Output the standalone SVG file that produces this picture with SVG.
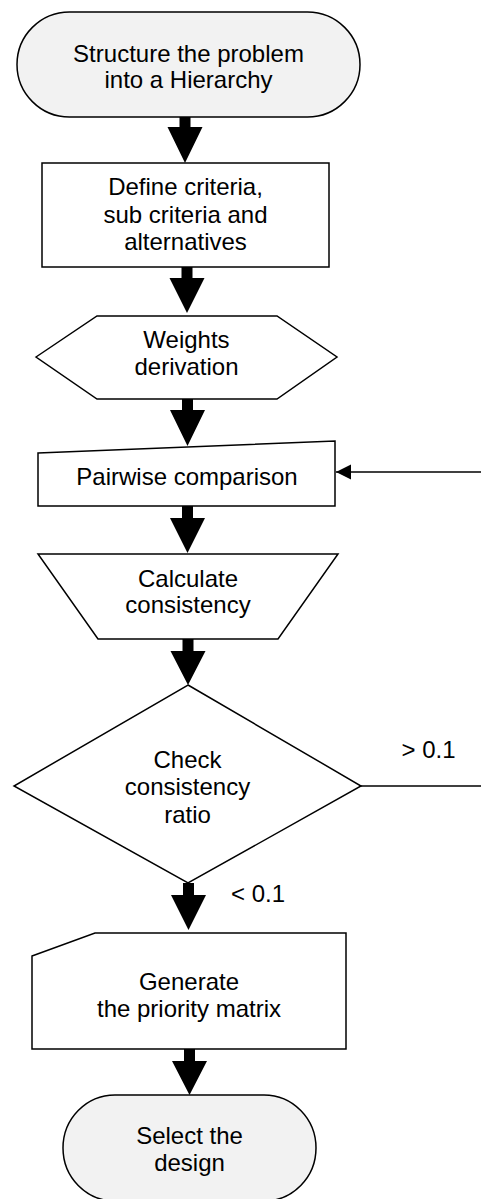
<svg xmlns="http://www.w3.org/2000/svg" width="481" height="1199" viewBox="0 0 481 1199">
<style>
.shape{fill:#ffffff;stroke:#000000;stroke-width:1.5}
.term{fill:#f2f2f2;stroke:#000000;stroke-width:1.5}
text{font-family:"Liberation Sans",Arial,sans-serif;font-size:24px;fill:#000000;text-anchor:middle}
.blk{fill:#000000;stroke:none}
.ln{fill:none;stroke:#000000;stroke-width:1.5}
</style>
<defs>
<marker id="ah" markerWidth="16" markerHeight="16" refX="15" refY="8" orient="auto" markerUnits="userSpaceOnUse">
<path d="M0,0.5 L15,8 L0,15.5 Z" fill="#000000"/>
</marker>
</defs>
<rect width="481" height="1199" fill="#ffffff"/>
<g id="connectors">
<path class="blk" d="M179.5,117 L190.5,117 L190.5,127 L202.5,127 L185,163 L167.5,127 L179.5,127 Z"/>
<path class="blk" d="M181.5,267 L192.5,267 L192.5,278 L204.5,278 L187,313 L169.5,278 L181.5,278 Z"/>
<path class="blk" d="M182,399 L193,399 L193,410 L205,410 L187.5,446 L170,410 L182,410 Z"/>
<path class="blk" d="M182,506 L193,506 L193,518 L205,518 L187.5,553 L170,518 L182,518 Z"/>
<path class="blk" d="M182.5,639 L193.5,639 L193.5,651 L205.5,651 L188,685 L170.5,651 L182.5,651 Z"/>
<path class="blk" d="M183,883 L194,883 L194,895 L206,895 L188.5,930 L171,895 L183,895 Z"/>
<path class="blk" d="M184,1049 L195,1049 L195,1061 L207,1061 L189.5,1095 L172,1061 L184,1061 Z"/>
<line class="ln" x1="361" y1="786" x2="481" y2="786"/>
<line class="ln" x1="481" y1="472" x2="336" y2="472" marker-end="url(#ah)"/>
<text x="428.5" y="758">&gt; 0.1</text>
<text x="258" y="902">&lt; 0.1</text>
</g>
<g id="n1">
<rect class="term" x="17" y="12" width="343" height="105" rx="52.5" ry="52.5"/>
<text x="188.5" y="62">Structure the problem</text>
<text x="188.5" y="88">into a Hierarchy</text>
</g>
<g id="n2">
<rect class="shape" x="42" y="163" width="287" height="104"/>
<text x="185.5" y="195">Define criteria,</text>
<text x="185.5" y="223">sub criteria and</text>
<text x="185.5" y="250">alternatives</text>
</g>
<g id="n3">
<polygon class="shape" points="36,357 97,316 277,316 337,357 277,399 97,399"/>
<text x="186.5" y="348">Weights</text>
<text x="186.5" y="375">derivation</text>
</g>
<g id="n4">
<polygon class="shape" points="38,453 335,441 335,506 38,506"/>
<text x="187" y="485">Pairwise comparison</text>
</g>
<g id="n5">
<polygon class="shape" points="38,554 338,554 278,639 98,639"/>
<text x="188" y="587">Calculate</text>
<text x="188" y="613">consistency</text>
</g>
<g id="n6">
<polygon class="shape" points="188,685 361,786 188,883 14,786"/>
<text x="187.5" y="768">Check</text>
<text x="187.5" y="795">consistency</text>
<text x="187.5" y="823">ratio</text>
</g>
<g id="n7">
<polygon class="shape" points="32,956 95,933 346,933 346,1049 32,1049"/>
<text x="189" y="990">Generate</text>
<text x="189" y="1017">the priority matrix</text>
</g>
<g id="n8">
<rect class="term" x="63" y="1095" width="253" height="106" rx="52" ry="53"/>
<text x="189.5" y="1144">Select the</text>
<text x="189.5" y="1171">design</text>
</g>
</svg>
